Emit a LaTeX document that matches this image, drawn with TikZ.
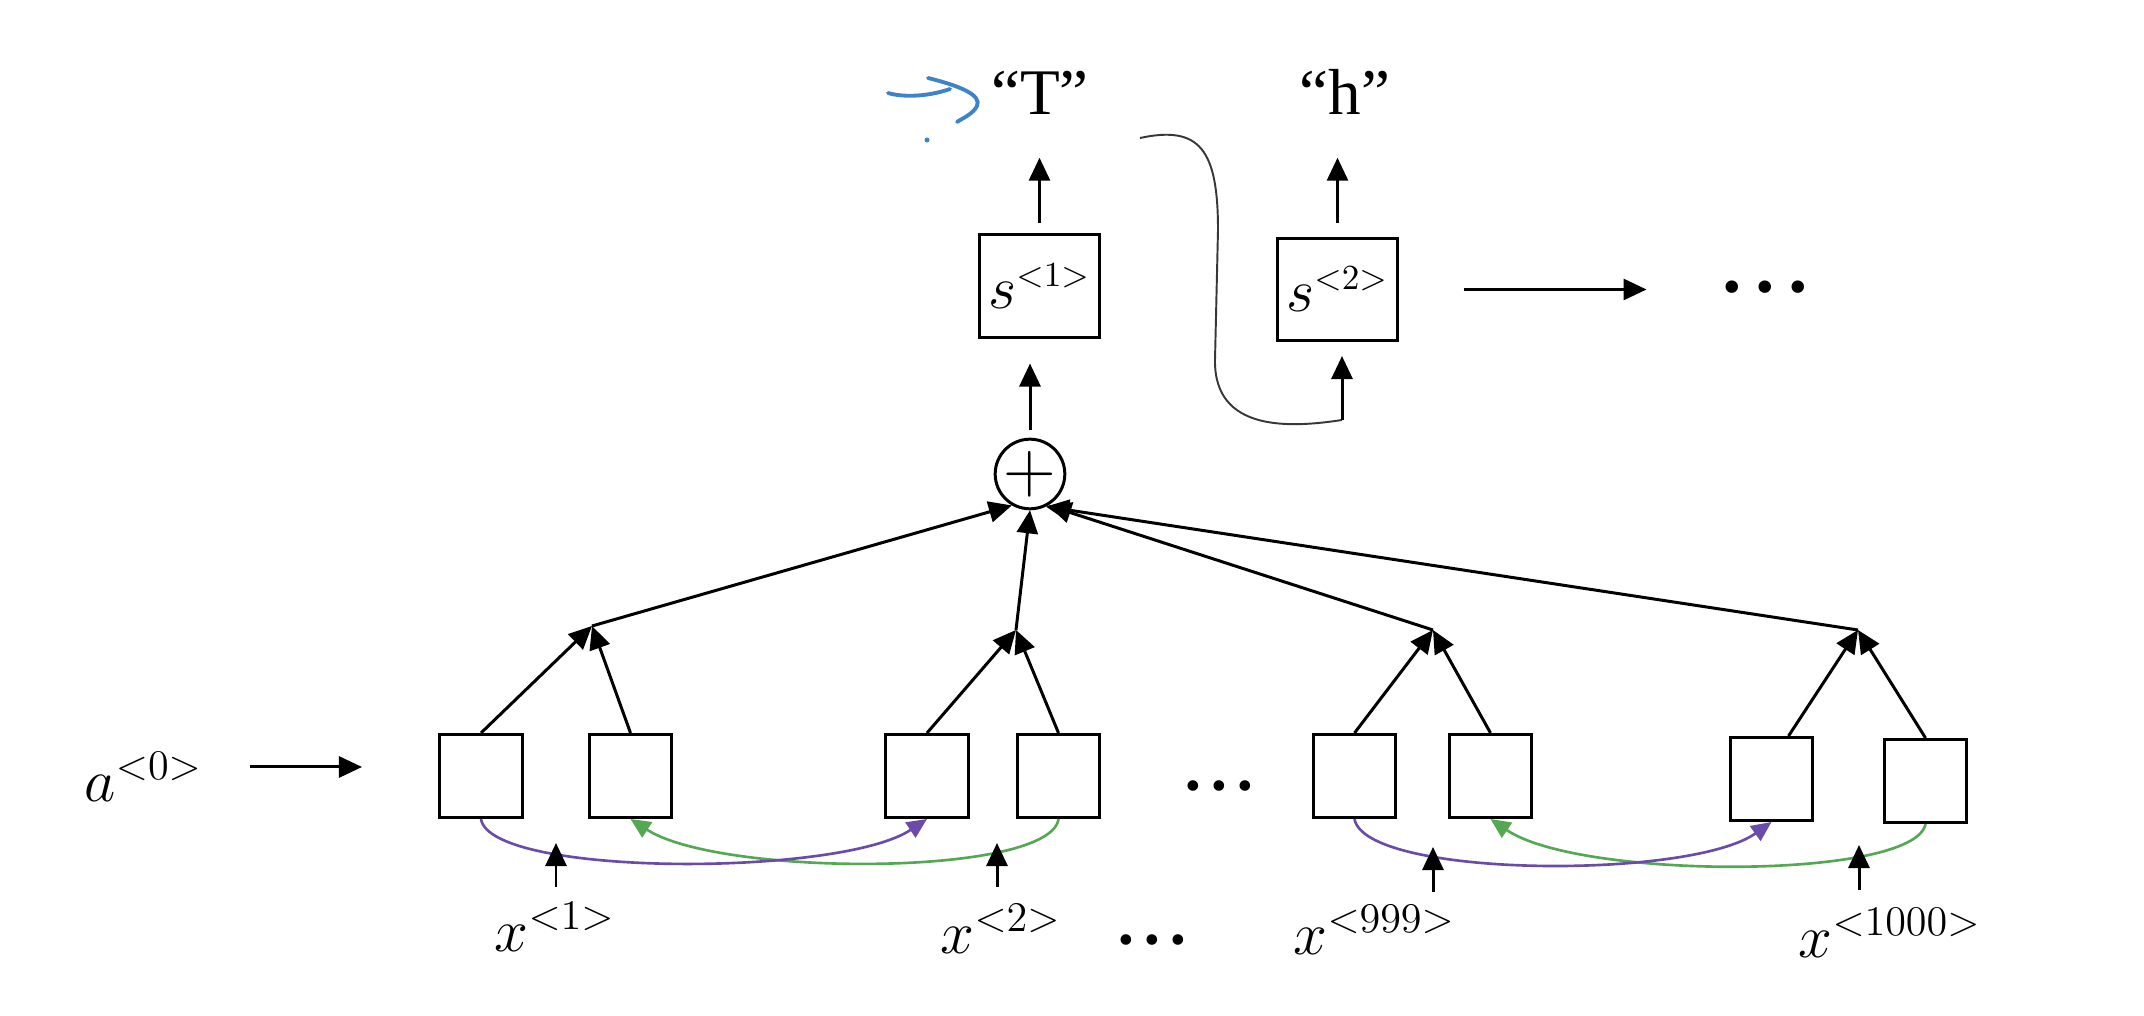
\documentclass[tikz,border=0pt]{standalone}
\usepackage{fontspec}
\newfontfamily\qfont{Liberation Serif}
\usetikzlibrary{arrows.meta}
\DeclareMathSizes{16}{16}{10}{8}
\DeclareMathSizes{18}{18}{12}{9}
\definecolor{purp}{RGB}{106,76,168}
\definecolor{grn}{RGB}{84,168,84}
\definecolor{pen}{RGB}{62,130,200}
\definecolor{curvegray}{RGB}{55,55,55}
\begin{document}
\begin{tikzpicture}[x=0.01cm,y=-0.01cm,
  arr/.style={-{Triangle[length=0.23cm,width=0.21cm]}, line width=0.85pt},
  arrC/.style={-{Triangle[length=0.2cm,width=0.18cm]}, line width=0.75pt},
  cellbox/.style={draw, line width=0.85pt, minimum width=0.82cm, minimum height=0.83cm, inner sep=0pt},
  sbox/.style={draw, line width=0.85pt, minimum width=1.19cm, minimum height=1.02cm, inner sep=0pt, font=\fontsize{16}{18}\selectfont},
  qlbl/.style={inner sep=0pt, font=\qfont\fontsize{18.5}{20}\selectfont},
  mlbl/.style={inner sep=0pt, anchor=base west, font=\fontsize{18}{20}\selectfont},
  plusnode/.style={draw, circle, line width=0.85pt, minimum size=0.68cm, inner sep=0pt, font=\fontsize{20}{20}\selectfont},
  glink/.style={draw=curvegray, line width=0.55pt},
  penstroke/.style={draw=pen, line width=1.1pt, line cap=round},
  dotsnode/.style={anchor=base, inner sep=0pt}]
\useasboundingbox (0,0) rectangle (2144,1016);

% blue hand annotation
\draw[penstroke] (888,93) .. controls (905,98) and (930,96) .. (950,89);
\draw[penstroke] (928,78) .. controls (960,86) and (982,95) .. (977,106) .. controls (973,114) and (963,118) .. (957,122);
\fill[pen] (927,140) circle (0.025cm);

% decoder
\node[sbox] (s1) at (1039.5,286) {$s^{<1>}$};
\node[sbox] (s2) at (1337.5,289.5) {$s^{<2>}$};
\node[qlbl, anchor=base] (T) at (1040,115) {“T”};
\node[qlbl, anchor=base] (h) at (1345,115) {“h”};
\node[dotsnode, font=\qfont\bfseries\fontsize{21.8}{22}\selectfont] (dtop) at (1765,313) {·\kern2.1pt·\kern2.1pt·};

\draw[arr, shorten <=0.1cm, shorten >=0.42cm] (s1.north) -- (s1.north |- T.south);
\draw[arr, shorten <=0.135cm, shorten >=0.42cm] (s2.north) -- (s2.north |- h.south);
\draw[arr, shorten <=0.65cm, shorten >=0.72cm] (s2.east) -- (s2.east -| dtop.west);

\coordinate (cT) at (1140,138);
\coordinate (c2) at (1342,420);
\draw[glink] (cT) .. controls (1200,125) and (1218,150) .. (1218,230) -- (1215,360) .. controls (1214,432) and (1290,428) .. (c2);
\draw[arr, shorten >=0.14cm] (c2) -- (c2 |- s2.south);

% attention sum
\node[plusnode] (plus) at (1030,474) {$+$};
\draw[arr, shorten <=0.08cm, shorten >=0.25cm] (plus.north) -- (plus.north |- s1.south);

% encoder cells
\node[cellbox] (b1) at (481,776) {};
\node[cellbox] (b2) at (630.5,776) {};
\node[cellbox] (b3) at (927,776) {};
\node[cellbox] (b4) at (1058.5,776) {};
\node[cellbox] (b5) at (1354.5,776) {};
\node[cellbox] (b6) at (1490.5,776) {};
\node[cellbox] (b7) at (1771.5,779) {};
\node[cellbox] (b8) at (1925.5,781) {};
\node[dotsnode, font=\qfont\bfseries\fontsize{18.5}{19}\selectfont] (dmid) at (1219.5,807.5) {·\kern1.2pt·\kern1.2pt·};

\coordinate (j1) at (592,626);
\coordinate (j2) at (1016,630);
\coordinate (j3) at (1433,630);
\coordinate (j4) at (1858,630);

\draw[arr] (b1.north) -- (j1);
\draw[arr] (b2.north) -- (j1);
\draw[arr] (b3.north) -- (j2);
\draw[arr] (b4.north) -- (j2);
\draw[arr] (b5.north) -- (j3);
\draw[arr] (b6.north) -- (j3);
\draw[arr] ([xshift=0.17cm]b7.north) -- (j4);
\draw[arr] (b8.north) -- (j4);

\draw[arr] (j1) -- (plus.240);
\draw[arr] (j2) -- (plus.south);
\draw[arr] (j3) -- (plus.300);
\draw[arr] (j4) -- (plus.296);

% bidirectional links
\draw[arrC, grn] (b4.south) .. controls (1050,877) and (720,877) .. (b2.south);
\draw[arrC, purp] (b1.south) .. controls (490,877) and (840,877) .. (b3.south);
\draw[arrC, grn] (b8.south) .. controls (1915,880) and (1580,880) .. (b6.south);
\draw[arrC, purp] (b5.south) .. controls (1365,878) and (1690,880) .. (b7.south);

% inputs
\node[mlbl] (x1) at (494,952) {$x^{<1>}$};
\node[mlbl] (x2) at (940,954) {$x^{<2>}$};
\node[mlbl] (x999) at (1293,955) {$x^{<999>}$};
\node[mlbl] (x1000) at (1798,958) {$x^{<1000>}$};
\node[dotsnode, font=\qfont\bfseries\fontsize{18.5}{19}\selectfont] (dbot) at (1152.5,961.5) {·\kern1.2pt·\kern1.2pt·};

\coordinate (i1s) at (556,887);  \coordinate (i1e) at (556,843);
\coordinate (i2s) at (997,887);  \coordinate (i2e) at (997,843);
\coordinate (i3s) at (1433,892); \coordinate (i3e) at (1433,847);
\coordinate (i4s) at (1859,890); \coordinate (i4e) at (1859,845);
\draw[arr] (i1s) -- (i1e);
\draw[arr] (i2s) -- (i2e);
\draw[arr] (i3s) -- (i3e);
\draw[arr] (i4s) -- (i4e);

% initial state
\node[mlbl] (a0) at (84,802) {$a^{<0>}$};
\coordinate (a0s) at (250,767);
\coordinate (a0e) at (362,767);
\draw[arr] (a0s) -- (a0e);
\end{tikzpicture}
\end{document}
